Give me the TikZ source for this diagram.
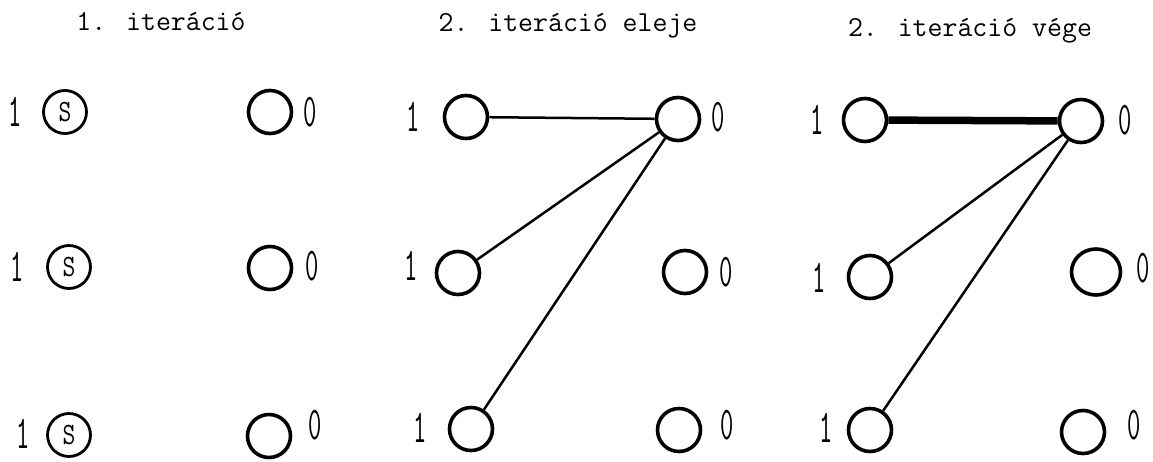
\documentclass[tikz,border=0pt]{standalone}
\usepackage{fontspec}
\usetikzlibrary{shapes.geometric}

\begin{document}
\begin{tikzpicture}[x=1pt,y=-1pt,
  vtx/.style={circle,draw,line width=3.6pt,inner sep=0pt,minimum size=43pt},
  src/.style={vtx,line width=2.8pt,font=\ttfamily\fontsize{31}{31}\selectfont},
  ttl/.style={font=\ttfamily\fontsize{29}{29}\selectfont},
  num/.style={inner sep=0pt,font=\ttfamily\fontsize{47}{47}\selectfont},
  edg/.style={line width=2.5pt},
  sat/.style={line width=7.5pt}]
\useasboundingbox (0,0) rectangle (1153,461);
% titles
\node[ttl] (t1) at (161,22) {1. iteráció};
\node[ttl] (t2) at (568,26) {2. iteráció eleje};
\node[ttl] (t3) at (970,31) {2. iteráció vége};
% 1. iteracio
\node[src] (a1) at (65,112) {\scalebox{0.8}[1]{S}};
\node[src] (a2) at (69,267) {\scalebox{0.8}[1]{S}};
\node[src] (a3) at (69,435) {\scalebox{0.8}[1]{S}};
\node[vtx] (b1) at (270,112) {}; \node[vtx] (b2) at (270,268) {}; \node[vtx] (b3) at (269,436) {};
\node[num] (na1) at (15,112) {\scalebox{0.55}[1]{1}};
\node[num] (na2) at (17,267) {\scalebox{0.55}[1]{1}};
\node[num] (na3) at (23,434) {\scalebox{0.55}[1]{1}};
\node[num] (nb1) at (310,112) {\scalebox{0.55}[1]{0}};
\node[num] (nb2) at (312,266) {\scalebox{0.55}[1]{0}};
\node[num] (nb3) at (315,425) {\scalebox{0.55}[1]{0}};
% 2. iteracio eleje
\node[vtx] (c1) at (466,117) {}; \node[vtx] (c2) at (458,273) {}; \node[vtx] (c3) at (471,429) {};
\node[vtx] (d1) at (678,119) {}; \node[vtx] (d2) at (685,272) {}; \node[vtx] (d3) at (679,430) {};
\node[num] (nc1) at (413,117) {\scalebox{0.55}[1]{1}};
\node[num] (nc2) at (411,266) {\scalebox{0.55}[1]{1}};
\node[num] (nc3) at (420,428) {\scalebox{0.55}[1]{1}};
\node[num] (nd1) at (718,117) {\scalebox{0.55}[1]{0}};
\node[num] (nd2) at (726,272) {\scalebox{0.55}[1]{0}};
\node[num] (nd3) at (727,425) {\scalebox{0.55}[1]{0}};
\draw[edg] (c1)--(d1); \draw[edg] (c2)--(d1); \draw[edg] (c3)--(d1);
% 2. iteracio vege
\node[vtx] (e1) at (865,120) {}; \node[vtx] (e2) at (870,277) {}; \node[vtx] (e3) at (870,430) {};
\node[vtx] (f1) at (1081,121) {}; \node[vtx,ellipse,minimum width=49pt,minimum height=46pt] (f2) at (1096,272) {}; \node[vtx] (f3) at (1083,432) {};
\node[num] (ne1) at (817,120) {\scalebox{0.55}[1]{1}};
\node[num] (ne2) at (819,278) {\scalebox{0.55}[1]{1}};
\node[num] (ne3) at (826,428) {\scalebox{0.55}[1]{1}};
\node[num] (nf1) at (1125,120) {\scalebox{0.55}[1]{0}};
\node[num] (nf2) at (1143,268) {\scalebox{0.55}[1]{0}};
\node[num] (nf3) at (1134,425) {\scalebox{0.55}[1]{0}};
\draw[sat] (e1)--(f1); \draw[edg] (e2)--(f1); \draw[edg] (e3)--(f1);
\end{tikzpicture}
\end{document}
